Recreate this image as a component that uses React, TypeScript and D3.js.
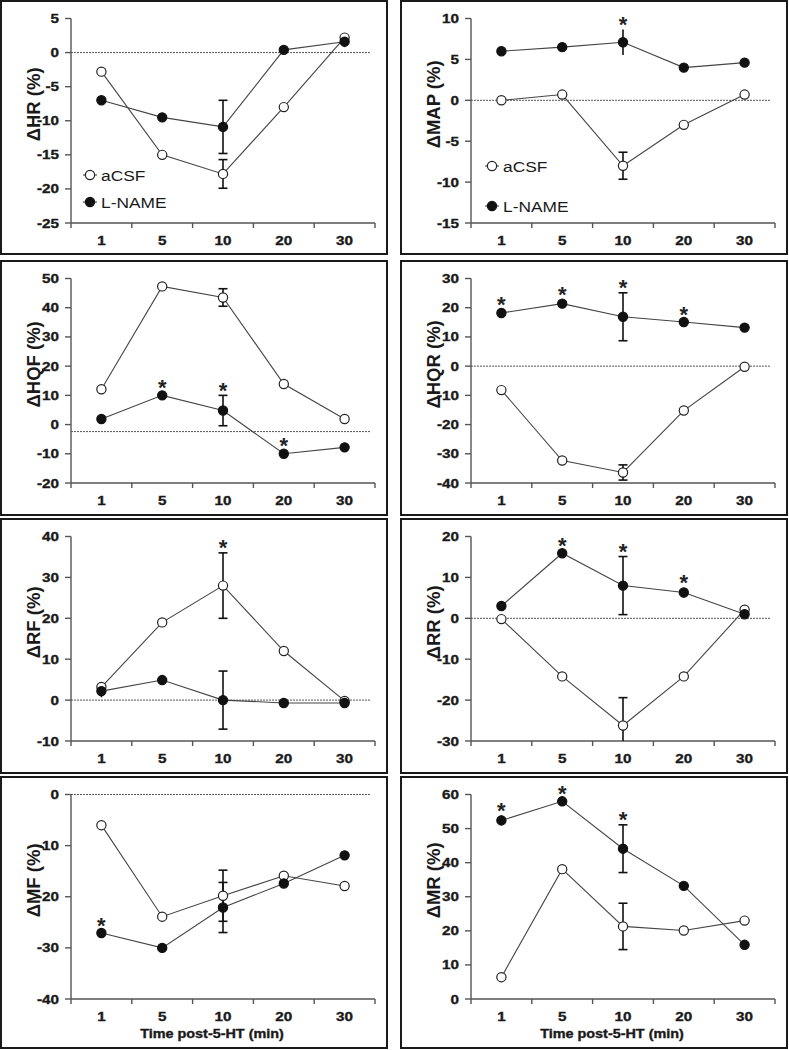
import React from "react";
import * as d3 from "d3";

// ---------- data ----------
const TIMES = ["1", "5", "10", "20", "30"];

const HR_ACSF = [-2.8, -15, -17.8, -8, 2.2];
const HR_ACSF_SE = [0, 0, 2.1, 0, 0.5];
const HR_LNAME = [-7, -9.5, -10.9, 0.4, 1.6];
const HR_LNAME_SE = [0, 0, 3.9, 0, 0.8];

const MAP_ACSF = [0, 0.7, -8, -3, 0.7];
const MAP_ACSF_SE = [0, 0, 1.65, 0, 0];
const MAP_LNAME = [6.0, 6.5, 7.1, 4.0, 4.6];
const MAP_LNAME_SE = [0, 0, 1.55, 0, 0.5];

const HQF_ACSF = [12.1, 47.3, 43.5, 13.9, 1.9];
const HQF_ACSF_SE = [0, 0, 3, 0, 0];
const HQF_LNAME = [1.9, 10, 4.8, -10, -7.8];
const HQF_LNAME_SE = [0, 0.8, 5.2, 0.8, 1.5];

const HQR_ACSF = [-8.2, -32.3, -36.4, -15.2, -0.2];
const HQR_ACSF_SE = [0, 0, 2.6, 0, 0];
const HQR_LNAME = [18.2, 21.4, 16.9, 15.1, 13.2];
const HQR_LNAME_SE = [0, 1.5, 8.2, 0.8, 1.5];

const RF_ACSF = [3.2, 19, 28, 12, -0.2];
const RF_ACSF_SE = [0, 0, 8, 0, 0];
const RF_LNAME = [2.2, 4.9, 0, -0.7, -0.7];
const RF_LNAME_SE = [1.5, 0, 7.1, 0, 0];

const RR_ACSF = [-0.2, -14.2, -26.2, -14.2, 2.1];
const RR_ACSF_SE = [0, 0, 6.8, 0, 0];
const RR_LNAME = [3.0, 15.9, 8, 6.3, 1];
const RR_LNAME_SE = [0, 0, 7.1, 1.2, 0];

const MF_ACSF = [-6, -23.9, -19.8, -15.9, -17.9];
const MF_ACSF_SE = [0, 0, 5, 0, 0];
const MF_LNAME = [-27.1, -30, -22.1, -17.4, -11.9];
const MF_LNAME_SE = [0, 0, 4.9, 0, 0];

const MR_ACSF = [6.4, 38.1, 21.3, 20.1, 23];
const MR_ACSF_SE = [0, 0, 6.8, 0, 0];
const MR_LNAME = [52.4, 58, 44.1, 33.2, 15.9];
const MR_LNAME_SE = [1.5, 0, 7, 0, 0];

const HR_TICKS = [-25, -20, -15, -10, -5, 0, 5];
const MAP_TICKS = [-15, -10, -5, 0, 5, 10];
const HQF_TICKS = [-20, -10, 0, 10, 20, 30, 40, 50];
const HQR_TICKS = [-40, -30, -20, -10, 0, 10, 20, 30];
const RF_TICKS = [-10, 0, 10, 20, 30, 40];
const RR_TICKS = [-30, -20, -10, 0, 10, 20];
const MF_TICKS = [-40, -30, -20, -10, 0];
const MR_TICKS = [0, 10, 20, 30, 40, 50, 60];

const SERIES_NAMES = ["aCSF", "L-NAME"];
const X_TITLE = "Time post-5-HT (min)";

type Panel = {
  label: string;
  ticks: number[];
  acsf: number[];
  acsfSe: number[];
  lname: number[];
  lnameSe: number[];
  refLine: number | null;
  starsOn: "A" | "L";
  stars: number[];
};

const PANELS: Panel[] = [
  { label: "ΔHR (%)", ticks: HR_TICKS, acsf: HR_ACSF, acsfSe: HR_ACSF_SE, lname: HR_LNAME, lnameSe: HR_LNAME_SE, refLine: 0, starsOn: "L", stars: [] },
  { label: "ΔMAP (%)", ticks: MAP_TICKS, acsf: MAP_ACSF, acsfSe: MAP_ACSF_SE, lname: MAP_LNAME, lnameSe: MAP_LNAME_SE, refLine: 0, starsOn: "L", stars: [2] },
  { label: "ΔHQF (%)", ticks: HQF_TICKS, acsf: HQF_ACSF, acsfSe: HQF_ACSF_SE, lname: HQF_LNAME, lnameSe: HQF_LNAME_SE, refLine: -2.4, starsOn: "L", stars: [1, 2, 3] },
  { label: "ΔHQR (%)", ticks: HQR_TICKS, acsf: HQR_ACSF, acsfSe: HQR_ACSF_SE, lname: HQR_LNAME, lnameSe: HQR_LNAME_SE, refLine: 0, starsOn: "L", stars: [0, 1, 2, 3] },
  { label: "ΔRF (%)", ticks: RF_TICKS, acsf: RF_ACSF, acsfSe: RF_ACSF_SE, lname: RF_LNAME, lnameSe: RF_LNAME_SE, refLine: 0, starsOn: "A", stars: [2] },
  { label: "ΔRR (%)", ticks: RR_TICKS, acsf: RR_ACSF, acsfSe: RR_ACSF_SE, lname: RR_LNAME, lnameSe: RR_LNAME_SE, refLine: 0, starsOn: "L", stars: [1, 2, 3] },
  { label: "ΔMF (%)", ticks: MF_TICKS, acsf: MF_ACSF, acsfSe: MF_ACSF_SE, lname: MF_LNAME, lnameSe: MF_LNAME_SE, refLine: 0, starsOn: "L", stars: [0] },
  { label: "ΔMR (%)", ticks: MR_TICKS, acsf: MR_ACSF, acsfSe: MR_ACSF_SE, lname: MR_LNAME, lnameSe: MR_LNAME_SE, refLine: null, starsOn: "L", stars: [0, 1, 2] },
];

// ---------- layout ----------
const W = 789;
const H = 1050;
const COL_X = [1, 401];
const PANEL_W = 386;
const ROWS = [
  { top: 1, h: 253 },
  { top: 261, h: 254 },
  { top: 519, h: 254 },
  { top: 777, h: 271 },
];
const LEGEND_POS: Record<number, { dx: number; dy: number[] }> = {
  0: { dx: 19, dy: [174, 201] },
  1: { dx: 21, dy: [165, 205] },
};

const FONT = "Arial, 'Liberation Sans', Helvetica, sans-serif";
const SX = 1.22;
const R = 4.6;

function SText(props: {
  x: number;
  y: number;
  anchor?: "start" | "middle" | "end";
  size: number;
  weight?: string;
  sx?: number;
  heavy?: boolean;
  children: React.ReactNode;
}) {
  const { x, y, anchor = "start", size, weight = "bold", sx = SX, heavy = false, children } = props;
  return (
    <text
      transform={`translate(${x},${y}) scale(${sx},1)`}
      textAnchor={anchor}
      fontSize={size}
      fontWeight={weight}
      fontFamily={FONT}
      fill="#1a1a1a"
      stroke={heavy ? "#1a1a1a" : "none"}
      strokeWidth={heavy ? 0.35 : 0}
    >
      {children}
    </text>
  );
}

function PanelView({ p, idx }: { p: Panel; idx: number }) {
  const col = idx % 2;
  const row = Math.floor(idx / 2);
  const px = COL_X[col];
  const py = ROWS[row].top;
  const ph = ROWS[row].h;
  const left = px + 70;
  const right = px + 374;
  const top = py + 17.5;
  const bottom = py + 222;

  const ext = d3.extent(p.ticks) as [number, number];
  const y = d3.scaleLinear().domain(ext).range([bottom, top]);
  const x = d3.scaleBand().domain(TIMES).range([left, right]).paddingInner(0).paddingOuter(0);
  const bw = x.bandwidth();
  const cx = (t: string) => (x(t) as number) + bw / 2;
  const clampV = (v: number) => Math.max(ext[0], Math.min(ext[1], v));

  const line = d3
    .line<number>()
    .x((_, i) => cx(TIMES[i]))
    .y((v) => y(v));

  const edges = [...TIMES.map((t) => x(t) as number), right];

  const errBars = (vals: number[], se: number[], key: string) =>
    vals.map((v, i) => {
      if (!se[i]) return null;
      const hiV = v + se[i];
      const loV = v - se[i];
      const hi = y(clampV(hiV));
      const lo = y(clampV(loV));
      const xc = cx(TIMES[i]);
      const caps = se[i] >= 1.6;
      return (
        <g key={key + i} stroke="#111" strokeWidth={1.6}>
          <line x1={xc} x2={xc} y1={hi} y2={lo} />
          {caps && hiV <= ext[1] && <line x1={xc - 4.5} x2={xc + 4.5} y1={hi} y2={hi} />}
          {caps && loV >= ext[0] && <line x1={xc - 4.5} x2={xc + 4.5} y1={lo} y2={lo} />}
        </g>
      );
    });

  const starVals = p.starsOn === "A" ? p.acsf : p.lname;
  const starSe = p.starsOn === "A" ? p.acsfSe : p.lnameSe;
  const legend = LEGEND_POS[idx];

  return (
    <g>
      <rect x={px} y={py} width={PANEL_W} height={ph} fill="white" stroke="#1a1a1a" strokeWidth={2} />
      {/* y axis */}
      <line x1={left} x2={left} y1={top} y2={bottom} stroke="#555" strokeWidth={1.4} />
      {p.ticks.map((t) => (
        <g key={"yt" + t}>
          <line x1={left - 6} x2={left} y1={y(t)} y2={y(t)} stroke="#555" strokeWidth={1.4} />
          <SText x={left - 12} y={y(t) + 4.5} anchor="end" size={12.5} heavy>
            {String(t)}
          </SText>
        </g>
      ))}
      {/* x axis */}
      <line x1={left} x2={right} y1={bottom} y2={bottom} stroke="#555" strokeWidth={1.4} />
      {edges.map((e, i) => (
        <line key={"xt" + i} x1={e} x2={e} y1={bottom} y2={bottom + 5} stroke="#555" strokeWidth={1.4} />
      ))}
      {TIMES.map((t) => (
        <SText key={"xl" + t} x={cx(t)} y={bottom + 21.5} anchor="middle" size={12.5} heavy>
          {t}
        </SText>
      ))}
      {row === 3 && (
        <SText x={px + 211} y={py + 261} anchor="middle" size={12} sx={1.2} heavy>
          {X_TITLE}
        </SText>
      )}
      {/* y label */}
      <text
        transform={`translate(${px + 39},${top + (bottom - top) * 0.42}) rotate(-90)`}
        textAnchor="middle"
        fontSize={18.5}
        fontWeight="bold"
        fontFamily={FONT}
        fill="#1a1a1a"
      >
        {p.label}
      </text>
      {/* reference line */}
      {p.refLine !== null && (
        <line
          x1={left}
          x2={right - 4}
          y1={y(p.refLine)}
          y2={y(p.refLine)}
          stroke="#555"
          strokeWidth={1}
          strokeDasharray="2,1"
        />
      )}
      {/* lines */}
      <path d={line(p.acsf) || ""} fill="none" stroke="#444" strokeWidth={1.1} />
      <path d={line(p.lname) || ""} fill="none" stroke="#444" strokeWidth={1.1} />
      {errBars(p.acsf, p.acsfSe, "ea")}
      {errBars(p.lname, p.lnameSe, "el")}
      {p.acsf.map((v, i) => (
        <circle key={"ma" + i} cx={cx(TIMES[i])} cy={y(v)} r={R} fill="white" stroke="#222" strokeWidth={1.2} />
      ))}
      {p.lname.map((v, i) => (
        <circle key={"ml" + i} cx={cx(TIMES[i])} cy={y(v)} r={R} fill="#111" stroke="#111" strokeWidth={1.2} />
      ))}
      {/* significance */}
      {p.stars.map((i) => {
        const v = starVals[i];
        const cy = Math.min(y(v) - 12, y(v + starSe[i]) - 9);
        return (
          <text
            key={"s" + i}
            x={cx(TIMES[i])}
            y={cy + 11.5}
            textAnchor="middle"
            fontSize={22}
            fontWeight="bold"
            fontFamily={FONT}
            fill="#222"
          >
            *
          </text>
        );
      })}
      {/* legend */}
      {legend &&
        SERIES_NAMES.map((n, k) => {
          const lx = left + legend.dx;
          const ly = py + legend.dy[k];
          return (
            <g key={"lg" + k}>
              <line x1={lx - 7} x2={lx + 7} y1={ly} y2={ly} stroke="#444" strokeWidth={1.1} />
              <circle
                cx={lx}
                cy={ly}
                r={R}
                fill={k === 0 ? "white" : "#111"}
                stroke={k === 0 ? "#222" : "#111"}
                strokeWidth={1.2}
              />
              <SText x={lx + 11} y={ly + 5.5} size={15.5} weight="normal" sx={1.12}>
                {n}
              </SText>
            </g>
          );
        })}
    </g>
  );
}

export default function App() {
  return (
    <svg
      width={W}
      height={H}
      viewBox={`0 0 ${W} ${H}`}
      style={{ position: "absolute", left: 0, top: 0, background: "white" }}
    >
      <rect x={0} y={0} width={W} height={H} fill="white" />
      {PANELS.map((p, i) => (
        <PanelView key={i} p={p} idx={i} />
      ))}
    </svg>
  );
}
